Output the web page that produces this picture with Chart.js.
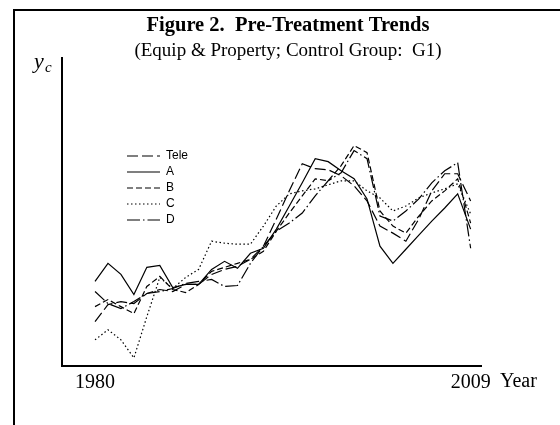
<!DOCTYPE html>
<html>
<head>
<meta charset="utf-8">
<script src="https://cdn.jsdelivr.net/npm/chart.js@4.4.1/dist/chart.umd.min.js"></script>
<style>
  html, body { margin: 0; padding: 0; background: #fff; }
  #wrap { position: relative; width: 560px; height: 425px; overflow: hidden; }
  #frame { position: absolute; left: 13px; top: 9px; width: 600px; height: 500px; border: 2px solid #000; box-sizing: border-box; }
  canvas { position: absolute; left: 0; top: 0; }
</style>
</head>
<body>
<div id="wrap">
  <div id="frame"></div>
  <canvas id="myChart" width="560" height="425"></canvas>
</div>
<script>
// years on the x axis
const years = [1980, 1981, 1982, 1983, 1984, 1985, 1986, 1987, 1988, 1989,
  1990, 1991, 1992, 1993, 1994, 1995, 1996, 1997, 1998, 1999,
  2000, 2001, 2002, 2003, 2004, 2005, 2006, 2007, 2008, 2009];
const tickYears = [1980, 2009];

// y_c values (arbitrary units)
const tele = [44, 61, 64, 62, 72, 76, 74, 81, 81, 91, 96, 99, 106, 119, 146, 174, 201, 196, 195, 189,
  179, 164, 139, 132, 124, 146, 174, 191, 191, 164];
const seriesA = [84, 102, 91, 71, 98, 100, 78, 81, 81, 96, 104, 97, 112, 117, 136, 159, 182, 206, 203, 194,
  186, 166, 119, 102, 116, 130, 144, 157, 171, 136];
const seriesB = [59, 66, 59, 52, 79, 89, 76, 73, 81, 94, 98, 102, 106, 114, 134, 152, 169, 186, 184, 199,
  219, 212, 154, 139, 132, 149, 164, 174, 186, 142];
const seriesC = [26, 36, 26, 8, 49, 88, 77, 88, 96, 124, 122, 121, 121, 139, 159, 171, 174, 176, 180, 184,
  184, 174, 167, 154, 159, 167, 172, 176, 181, 151];
const seriesD = [74, 62, 57, 64, 72, 74, 77, 82, 84, 86, 79, 80, 102, 119, 134, 142, 152, 169, 184, 192,
  214, 206, 149, 144, 154, 166, 182, 194, 202, 117];

const serif = "'Liberation Serif', 'Times New Roman', serif";

function toPoints(vals) {
  return years.map((yr, i) => ({ x: yr, y: vals[i] }));
}

function makeSet(label, vals, dash) {
  return {
    label: label,
    data: toPoints(vals),
    borderColor: "#000",
    backgroundColor: "#000",
    borderWidth: 1.2,
    borderDash: dash,
    pointRadius: 0,
    tension: 0,
  };
}

// legend sits inside the plot, top left
const legendSpot = {
  id: "legendSpot",
  afterLayout(chart) {
    chart.legend.left = 123;
    chart.legend.top = 146;
  },
};

// titles, y_c and Year labels
const extraText = {
  id: "extraText",
  afterDraw(chart) {
    const ctx = chart.ctx;
    ctx.save();
    ctx.fillStyle = "#000";
    ctx.textAlign = "center";
    ctx.textBaseline = "middle";
    ctx.font = "bold 20.5px " + serif;
    ctx.fillText("Figure 2.  Pre-Treatment Trends", 288, 26);
    ctx.font = "19px " + serif;
    ctx.fillText("(Equip & Property; Control Group:  G1)", 288, 51);

    ctx.textAlign = "left";
    ctx.textBaseline = "alphabetic";
    ctx.font = "italic 22px " + serif;
    ctx.fillText("y", 34, 68);
    ctx.font = "italic 15px " + serif;
    ctx.fillText("c", 45, 72);
    ctx.font = "20px " + serif;
    ctx.fillText("Year", 500, 387);
    ctx.restore();
  },
};

const ctx = document.getElementById("myChart");

new Chart(ctx, {
  type: "line",
  data: {
    datasets: [
      makeSet("Tele", tele, [11, 4]),
      makeSet("A", seriesA, []),
      makeSet("B", seriesB, [6, 3]),
      makeSet("C", seriesC, [1.5, 2.5]),
      makeSet("D", seriesD, [13, 3, 1.5, 3]),
    ],
  },
  options: {
    responsive: false,
    animation: false,
    layout: {
      padding: { left: 62, right: 79, top: 58, bottom: 25 },
    },
    plugins: {
      legend: {
        position: "chartArea",
        align: "start",
        labels: {
          usePointStyle: true,
          pointStyle: "line",
          pointStyleWidth: 33,
          color: "#000",
          font: { family: "'Liberation Sans', Arial, sans-serif", size: 12 },
          padding: 4,
          generateLabels(chart) {
            const items = Chart.defaults.plugins.legend.labels.generateLabels(chart);
            items.forEach((item, i) => {
              item.lineDash = chart.data.datasets[i].borderDash;
              item.lineWidth = 1.2;
              item.strokeStyle = "#000";
            });
            return items;
          },
        },
      },
      tooltip: { enabled: false },
    },
    scales: {
      x: {
        type: "linear",
        min: 1977.45,
        max: 2009.8,
        afterBuildTicks(scale) {
          scale.ticks = tickYears.map((v) => ({ value: v }));
        },
        ticks: {
          color: "#000",
          font: { family: serif, size: 20 },
          padding: 5,
          autoSkip: false,
          maxRotation: 0,
          callback: (v) => String(v),
        },
        grid: { display: false, drawTicks: false },
        border: { display: true, color: "#000", width: 2 },
      },
      y: {
        min: 0,
        max: 306,
        ticks: { display: false },
        grid: { display: false, drawTicks: false },
        border: { display: true, color: "#000", width: 2 },
      },
    },
  },
  plugins: [legendSpot, extraText],
});
</script>
</body>
</html>
